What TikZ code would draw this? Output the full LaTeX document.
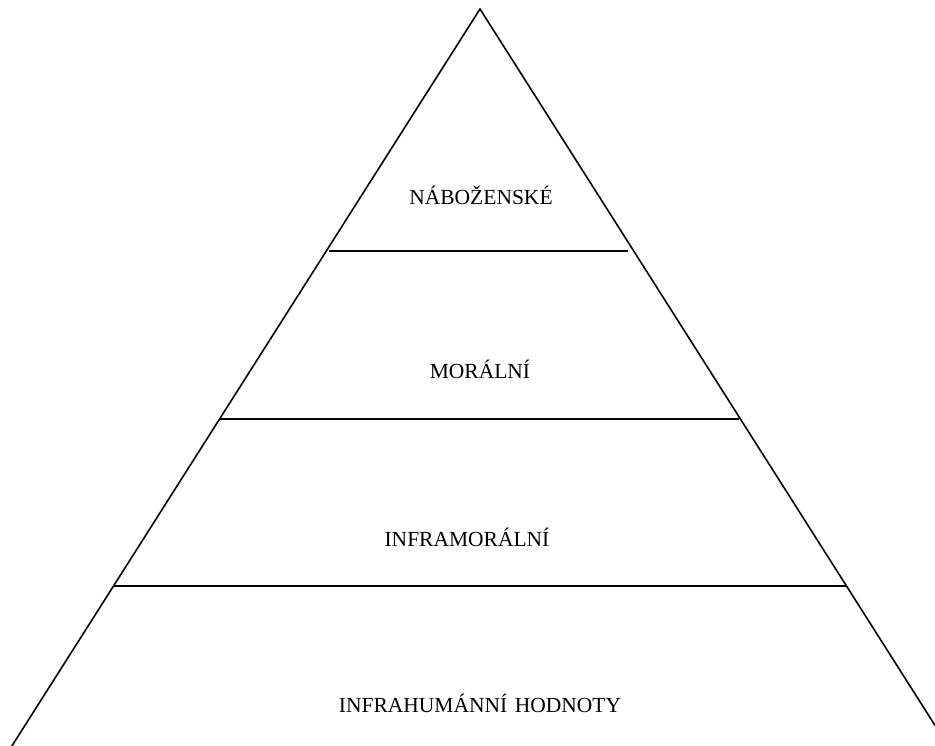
\documentclass[tikz,border=0pt]{standalone}
\usepackage{fontspec}
\setmainfont{Liberation Serif}
\tikzset{
  edge/.style={line width=1.6pt, black},
  level/.style={font=\fontsize{21.5}{24}\selectfont, anchor=base, inner sep=0pt}
}
\begin{document}
\begin{tikzpicture}[x=1pt,y=-1pt]
\useasboundingbox (0,0) rectangle (935,745);
\fill[white] (0,0) rectangle (935,745);
\coordinate (apex) at (480,9);
\coordinate (bl) at (3,760);
\coordinate (br) at (957,760);
\begin{scope}
\clip (0,0) rectangle (935,745);
\draw[edge, line join=miter] (bl) -- (apex) -- (br);
\end{scope}
\coordinate (a1) at (329,251); \coordinate (b1) at (628,251);
\coordinate (a2) at (219,419); \coordinate (b2) at (739,419);
\coordinate (a3) at (114,586); \coordinate (b3) at (846,586);
\draw[edge] (a1) -- (b1);
\draw[edge] (a2) -- (b2);
\draw[edge] (a3) -- (b3);
\node[level] (t1) at (481,204) {NÁBOŽENSKÉ};
\node[level] (t2) at (480,378) {MORÁLNÍ};
\node[level] (t3) at (467,546) {INFRAMORÁLNÍ};
\node[level] (t4) at (480,712) {INFRAHUMÁNNÍ\hspace{0.35em}HODNOTY};
\end{tikzpicture}
\end{document}
